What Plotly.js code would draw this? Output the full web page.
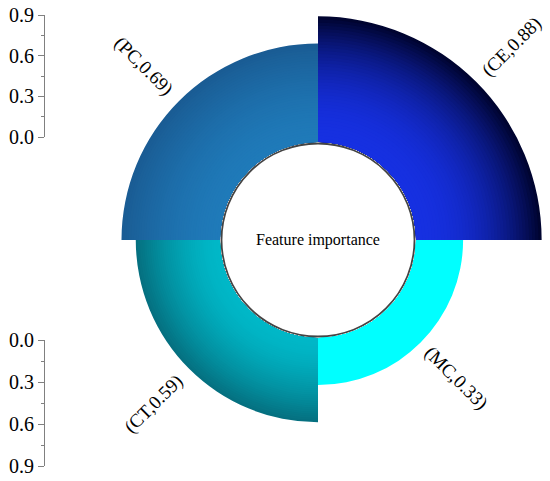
<!DOCTYPE html>
<html><head><meta charset="utf-8">
<script src="https://cdn.plot.ly/plotly-3.0.1.min.js"></script>
<style>html,body{margin:0;padding:0;background:#fff}</style>
</head><body><div id="chart" style="width:550px;height:481px"></div>
<script>
const categories = ['CE', 'PC', 'CT', 'MC'];
const values = [0.88, 0.69, 0.59, 0.33];
const tickVals = [0, 0.3, 0.6, 0.9];
const tickText = ['0.0', '0.3', '0.6', '0.9'];
const minorVals = [0.15, 0.45, 0.75];
const centerLabel = 'Feature importance';
const innerColors = [[22, 48, 225], [31, 122, 185], [0, 184, 200], [0, 255, 255]];
const outerColors = [[0, 4, 48], [26, 92, 148], [5, 112, 128], [0, 255, 255]];
const gammas = [2.2, 1.6, 1.6, 1];

const W = 550, H = 481;
const cx = 318, cy = 240, Rpx = 226.5, holePx = 98;
const rMax = 0.9;
const unitPx = (Rpx - holePx) / rMax;
const FONT = 'Liberation Serif, Times New Roman, serif';

function mix(a, b, t) {
  return 'rgb(' + a.map((v, i) => Math.round(v + (b[i] - v) * t)).join(',') + ')';
}

const traces = [];
const N = 40;
for (let k = 0; k < N; k++) {
  const frac = (N - k) / N;
  traces.push({
    type: 'barpolar',
    theta: categories,
    r: values.map(v => v * frac),
    marker: {color: categories.map((c, i) => mix(innerColors[i], outerColors[i], Math.pow(frac, gammas[i]))), line: {width: 0}},
    hoverinfo: 'skip',
    showlegend: false
  });
}
// invisible anchors so the scale axes are drawn
traces.push({type: 'scatter', x: [0, 0], y: [tickVals[0], tickVals[tickVals.length - 1]], xaxis: 'x', yaxis: 'y', mode: 'markers', marker: {opacity: 0}, hoverinfo: 'skip', showlegend: false});
traces.push({type: 'scatter', x: [0, 0], y: [tickVals[0], tickVals[tickVals.length - 1]], xaxis: 'x', yaxis: 'y2', mode: 'markers', marker: {opacity: 0}, hoverinfo: 'skip', showlegend: false});

const scaleAxis = {
  anchor: 'free', position: 44 / W, side: 'left',
  showline: true, linecolor: '#808080', linewidth: 1,
  ticks: 'outside', ticklen: 6, tickcolor: '#808080', tickwidth: 1,
  tickvals: tickVals, ticktext: tickText,
  minor: {tickvals: minorVals, ticks: 'outside', ticklen: 3, tickcolor: '#808080'},
  showgrid: false, zeroline: false, fixedrange: true,
  tickfont: {family: FONT, size: 20, color: '#000'}
};

const annotations = [{
  x: cx / W, y: 1 - cy / H, xref: 'paper', yref: 'paper', text: centerLabel,
  showarrow: false, xanchor: 'center', yanchor: 'middle',
  font: {family: FONT, size: 16, color: '#000'}
}];
categories.forEach((c, i) => {
  const th = 45 + 90 * i;
  const d = holePx + (values[i] + 0.35) * unitPx;
  const px = cx + d * Math.cos(th * Math.PI / 180);
  const py = cy - d * Math.sin(th * Math.PI / 180);
  let ta = -th;
  while (ta < -90) ta += 180;
  annotations.push({
    x: px / W, y: 1 - py / H, xref: 'paper', yref: 'paper',
    text: '(' + c + ',' + values[i].toFixed(2) + ')',
    showarrow: false, xanchor: 'center', yanchor: 'middle', textangle: ta,
    font: {family: FONT, size: 19, color: '#000'}
  });
});

const layout = {
  width: W, height: H, margin: {l: 0, r: 0, t: 0, b: 0},
  paper_bgcolor: '#fff', plot_bgcolor: 'rgba(0,0,0,0)',
  showlegend: false,
  polar: {
    domain: {x: [(cx - Rpx) / W, (cx + Rpx) / W], y: [1 - (cy + Rpx) / H, 1 - (cy - Rpx) / H]},
    hole: holePx / Rpx, bargap: 0, barmode: 'overlay', bgcolor: 'rgba(0,0,0,0)',
    radialaxis: {range: [0, rMax], visible: false},
    angularaxis: {type: 'category', categoryorder: 'array', categoryarray: categories, rotation: 45, direction: 'counterclockwise', visible: false}
  },
  xaxis: {domain: [0, 0.08], range: [0, 1], visible: false, fixedrange: true},
  yaxis: Object.assign({}, scaleAxis, {domain: [1 - 137 / H, 1 - 15 / H], range: [0, 0.9]}),
  yaxis2: Object.assign({}, scaleAxis, {domain: [1 - 466 / H, 1 - 340 / H], range: [0.9, 0]}),
  shapes: [{
    type: 'circle', xref: 'paper', yref: 'paper', layer: 'above',
    x0: (cx - 96.5) / W, x1: (cx + 96.5) / W, y0: 1 - (cy + 96.5) / H, y1: 1 - (cy - 96.5) / H,
    line: {color: '#444', width: 1.8}, fillcolor: 'rgba(0,0,0,0)'
  }],
  annotations: annotations
};

Plotly.newPlot('chart', traces, layout, {displayModeBar: false, staticPlot: true});
</script></body></html>
